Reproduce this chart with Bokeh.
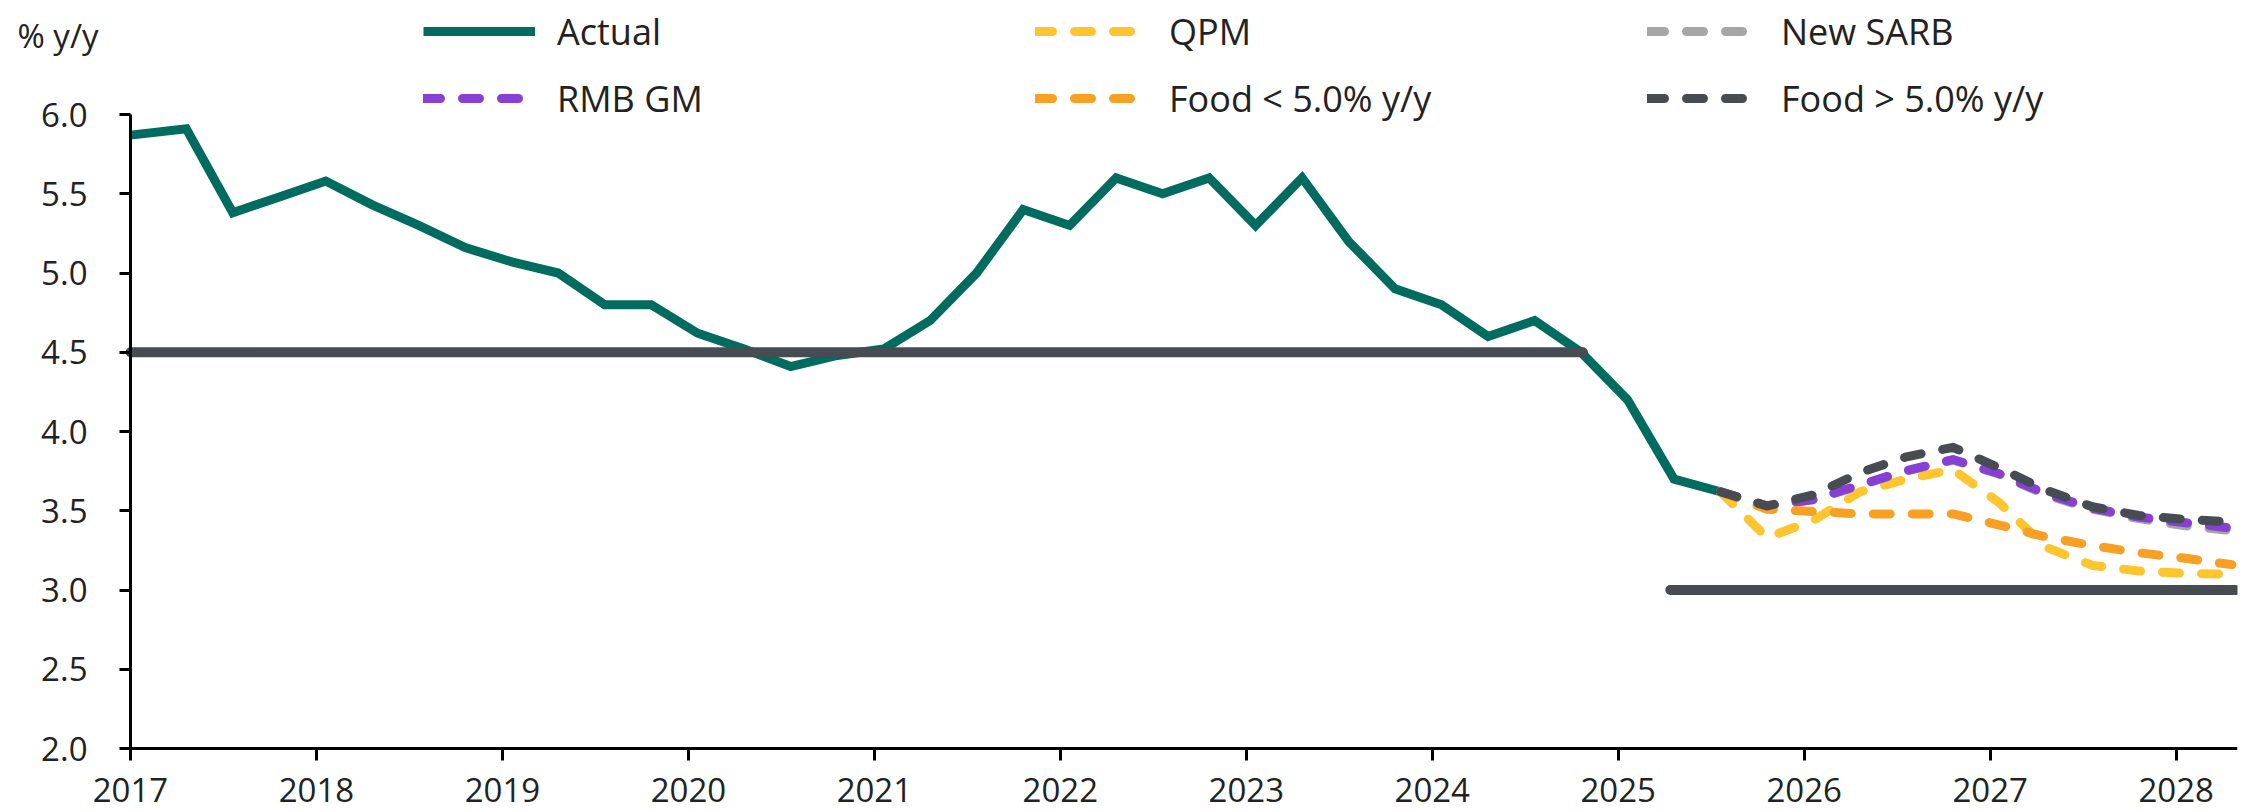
from bokeh.plotting import figure
from bokeh.models import FixedTicker, Legend, LegendItem, Label, PrintfTickFormatter, Range1d
from bokeh.embed import file_html
from bokeh.resources import INLINE

# ---------------- data ----------------
actual_dates = [2017.0] + [round(2017.30 + 0.25 * i, 2) for i in range(34)]
actual = [5.87, 5.91, 5.38, 5.48, 5.58, 5.43, 5.30, 5.16, 5.07, 5.00,
          4.80, 4.80, 4.62, 4.52, 4.41, 4.48, 4.52, 4.70, 5.00, 5.40,
          5.30, 5.60, 5.50, 5.60, 5.30, 5.60, 5.20, 4.90, 4.80, 4.60,
          4.70, 4.50, 4.20, 3.70, 3.62]

fc_dates = [round(2025.55 + 0.25 * i, 2) for i in range(12)]
qpm = [3.62, 3.33, 3.44, 3.62, 3.70, 3.76, 3.55, 3.27, 3.155, 3.12, 3.105, 3.10]
new_sarb = [3.62, 3.53, 3.57, 3.66, 3.75, 3.82, 3.73, 3.60, 3.51, 3.45, 3.405, 3.375]
rmb_gm = [3.62, 3.53, 3.571, 3.663, 3.754, 3.823, 3.733, 3.607, 3.516, 3.46, 3.424, 3.39]
food_lt5 = [3.62, 3.51, 3.495, 3.48, 3.48, 3.48, 3.41, 3.335, 3.28, 3.235, 3.20, 3.16]
food_gt5 = [3.62, 3.53, 3.60, 3.74, 3.84, 3.90, 3.77, 3.63, 3.525, 3.47, 3.445, 3.43]

target_old_x = [2017.0, 2024.81]
target_old_y = [4.5, 4.5]
target_new_x = [2025.28, 2028.32]
target_new_y = [3.0, 3.0]

x_ticks = list(range(2017, 2029))
y_ticks = [2.0, 2.5, 3.0, 3.5, 4.0, 4.5, 5.0, 5.5, 6.0]
X_START, X_END = 2017.0, 2028.33
Y_MIN, Y_MAX = 2.0, 6.0

# ---------------- layout / styles ----------------
FONT = "Open Sans"
TEAL = "#006B5F"
YELLOW = "#FFC52E"
LGRAY = "#A6A6A6"
PURPLE = "#8840D4"
ORANGE = "#F7A024"
DGRAY = "#474B52"
TXT = "#222222"
DASH = "17 22"

W, H = 2252, 810
RIGHT_PAD = 15
AXIS_X_PX = 130        # screen x of the y axis
TOP_PX = 114           # screen y of the 6.0 tick
BOT_PX = 748           # screen y of the 2.0 tick (x axis)
frame_w = W - RIGHT_PAD
frame_h = H
xs = (frame_w - AXIS_X_PX) / (X_END - X_START)
ys = (BOT_PX - TOP_PX) / (Y_MAX - Y_MIN)
x_lo = X_START - AXIS_X_PX / xs
y_hi = Y_MAX + TOP_PX / ys
y_lo = Y_MIN - (H - BOT_PX) / ys

p = figure(width=W, height=H, output_backend="svg", toolbar_location=None,
           x_range=Range1d(x_lo, X_END), y_range=Range1d(y_lo, y_hi),
           min_border_left=0, min_border_right=RIGHT_PAD, min_border_top=0,
           min_border_bottom=0)
p.outline_line_color = None
p.grid.visible = False
p.background_fill_color = "white"

r_act = p.line(actual_dates, actual, line_color=TEAL, line_width=9, line_join="miter")
p.line(target_old_x, target_old_y, line_color=DGRAY, line_width=10, line_cap="round")
p.line(target_new_x, target_new_y, line_color=DGRAY, line_width=10, line_cap="round")

common = dict(line_width=9, line_dash=DASH, line_cap="round", line_join="round")
r_qpm = p.line(fc_dates, qpm, line_color=YELLOW, **common)
r_sarb = p.line(fc_dates, new_sarb, line_color=LGRAY, **common)
r_rmb = p.line(fc_dates, rmb_gm, line_color=PURPLE, **common)
r_flt = p.line(fc_dates, food_lt5, line_color=ORANGE, **common)
r_fgt = p.line(fc_dates, food_gt5, line_color=DGRAY, **common)

# axes
for ax in (p.xaxis[0], p.yaxis[0]):
    ax.axis_line_color = "black"
    ax.axis_line_width = 3
    ax.major_tick_line_color = "black"
    ax.major_tick_line_width = 3
    ax.major_tick_out = 12
    ax.major_tick_in = 0
    ax.minor_tick_line_color = None
    ax.major_label_text_font = FONT
    ax.major_label_text_font_size = "33px"
    ax.major_label_text_color = TXT

p.xaxis.ticker = FixedTicker(ticks=x_ticks)
p.xaxis.bounds = (X_START, X_END)
p.xaxis.fixed_location = Y_MIN
p.xaxis.major_label_standoff = 17
p.yaxis.ticker = FixedTicker(ticks=y_ticks)
p.yaxis.formatter = PrintfTickFormatter(format="%.1f")
p.yaxis.bounds = (Y_MIN, Y_MAX)
p.yaxis.fixed_location = X_START
p.yaxis.major_tick_out = 11
p.yaxis.major_label_standoff = 32

# unit label
p.add_layout(Label(x=x_lo + 17 / xs, y=Y_MAX + (TOP_PX - 35) / ys, text="% y/y",
                   text_font=FONT, text_font_size="33px", text_color=TXT,
                   text_baseline="alphabetic"))

# legend
items = [
    LegendItem(label="Actual", renderers=[r_act]),
    LegendItem(label="QPM", renderers=[r_qpm]),
    LegendItem(label="New SARB", renderers=[r_sarb]),
    LegendItem(label="RMB GM", renderers=[r_rmb]),
    LegendItem(label="Food < 5.0% y/y", renderers=[r_flt]),
    LegendItem(label="Food > 5.0% y/y", renderers=[r_fgt]),
]
legend = Legend(items=items, orientation="horizontal", ncols=3,
                location=(423, frame_h - 124), padding=0, margin=0, spacing=15,
                glyph_width=112, glyph_height=52, label_height=52, label_width=463,
                label_standoff=22, label_text_font=FONT, label_text_font_size="36px",
                label_text_color=TXT, border_line_color=None,
                background_fill_alpha=0)
p.add_layout(legend, "center")

open("out.html", "w").write(file_html(p, INLINE))
